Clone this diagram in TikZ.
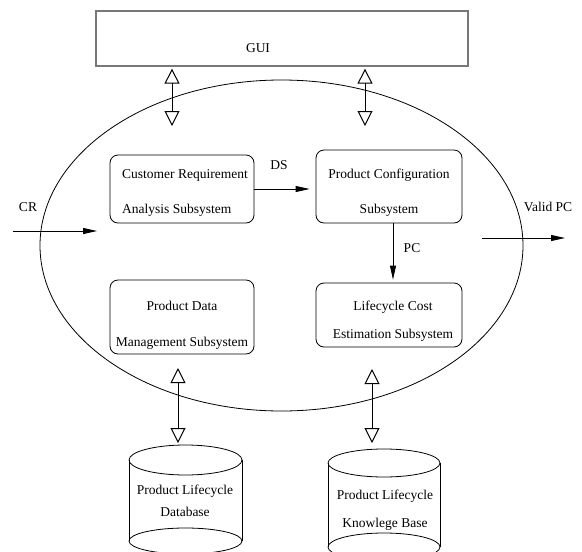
\documentclass[tikz,border=0pt]{standalone}
\usepackage{fontspec}
\setmainfont{Liberation Serif}
\usetikzlibrary{shapes.geometric,arrows.meta}
\definecolor{guigray}{RGB}{120, 120, 120}
\tikzstyle{subsys_box}=[rectangle, draw=black, rounded corners=8pt, line width=0.8pt, inner sep=0pt]
\tikzstyle{subsys_text}=[align=center, inner sep=0pt, font=\fontsize{13.5}{16}\selectfont]
\tikzstyle{flow}=[line width=0.8pt, -{Triangle[length=14pt,width=6pt]}]
\tikzstyle{exchange}=[line width=1pt,
    {Triangle[open,length=15pt,width=15pt]}-{Triangle[open,length=15pt,width=15pt]}]

\begin{document}
\begin{tikzpicture}[x=1pt, y=-1pt]
  \useasboundingbox (0,0) rectangle (582,552);

  % GUI bar on top
  \node[rectangle, draw=guigray, line width=1.3pt, minimum width=372pt, minimum height=55pt,
      inner sep=0pt] (gui) at (282,38.5) {};
  \node[subsys_text] (gui-text) at (258,48) {GUI};

  % The big ellipse holding the four subsystems
  \node[ellipse, draw, line width=0.8pt, minimum width=483pt, minimum height=331pt,
      inner sep=0pt] (system) at (281.5,245.5) {};

  % Subsystem boxes
  \node[subsys_box, minimum width=144pt, minimum height=68pt] (cra) at (182,189) {};
  \node[subsys_box, minimum width=146pt, minimum height=73pt] (pcs) at (389,186.5) {};
  \node[subsys_box, minimum width=144pt, minimum height=74pt] (pdm) at (182,317) {};
  \node[subsys_box, minimum width=146pt, minimum height=64pt] (lce) at (389,315) {};

  % Texts inside the boxes, placed by hand
  \node[subsys_text, align=left, anchor=west] (cra-text) at (122,192.5)
      {Customer Requirement\\[19pt]Analysis Subsystem};
  \node[subsys_text] (pcs-text) at (389,192.5) {Product Configuration\\[19pt]Subsystem};
  \node[subsys_text] (pdm-text) at (182,325) {Product Data\\[20pt]Management Subsystem};
  \node[subsys_text] (lce-text) at (393,321) {Lifecycle Cost\\[12pt]Estimation Subsystem};

  % Flows between the subsystems
  \draw[flow, shorten >=6pt] (cra.east) -- (cra.east -| pcs.west);
  \node[subsys_text] (ds-label) at (279,165) {DS};
  \draw[flow, shorten >=3pt] (pcs.south -| 393,0) -- (lce.north -| 393,0);
  \node[subsys_text] (pc-label) at (412,248) {PC};

  % Input and output of the system
  \coordinate (cr-start) at (13,231);
  \coordinate (cr-end) at (97,231);
  \draw[flow] (cr-start) -- (cr-end);
  \node[subsys_text] (cr-label) at (28,207) {CR};
  \coordinate (valid-start) at (482,238);
  \coordinate (valid-end) at (565,238);
  \draw[flow] (valid-start) -- (valid-end);
  \node[subsys_text] (valid-label) at (548,207) {Valid PC};

  % Exchanges with the GUI
  \coordinate (gui-left) at (172,126);
  \coordinate (gui-right) at (365,126);
  \draw[exchange, shorten <=2pt] (gui.south -| gui-left) -- (gui-left);
  \draw[exchange, shorten <=2pt] (gui.south -| gui-right) -- (gui-right);

  % Databases (cylinders drawn by hand)
  \draw[line width=0.8pt] (185.5,460) ellipse [x radius=56.5, y radius=15];
  \draw[line width=0.8pt] (185.5,541) ellipse [x radius=56.5, y radius=13];
  \draw[line width=0.8pt] (129,460) -- (129,541);
  \draw[line width=0.8pt] (242,460) -- (242,541);
  \coordinate (db-top) at (185.5,445);
  \node[subsys_text] (db-text) at (185,501) {Product Lifecycle\\[6pt]Database};

  \draw[line width=0.8pt] (384,463) ellipse [x radius=56, y radius=14];
  \draw[line width=0.8pt] (384,547) ellipse [x radius=56, y radius=14];
  \draw[line width=0.8pt] (328,463) -- (328,547);
  \draw[line width=0.8pt] (440,463) -- (440,547);
  \coordinate (kb-top) at (384,449);
  \node[subsys_text] (kb-text) at (385,510) {Product Lifecycle\\[12pt]Knowlege Base};

  % Exchanges with the databases
  \coordinate (pdm-link) at (178,368);
  \coordinate (lce-link) at (372,369);
  \draw[exchange, shorten >=2pt] (pdm-link) -- (pdm-link |- db-top);
  \draw[exchange, shorten >=6pt] (lce-link) -- (lce-link |- kb-top);

\end{tikzpicture}
\end{document}
